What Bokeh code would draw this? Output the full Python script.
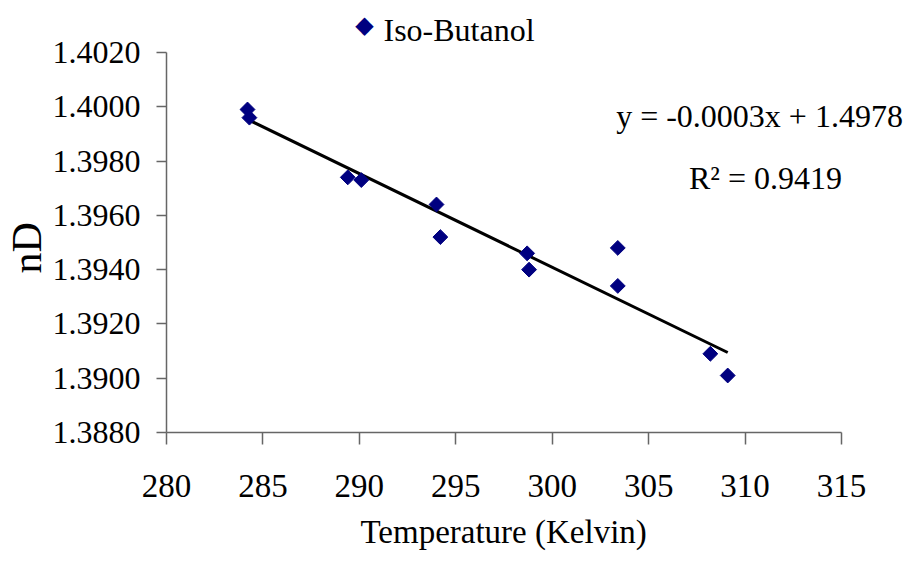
import numpy as np
from bokeh.plotting import figure
from bokeh.models import Range1d, FixedTicker, NumeralTickFormatter, Label, Title
from bokeh.embed import file_html
from bokeh.resources import INLINE

# ---- data ----
temperature = [284.2, 284.3, 289.4, 290.1, 294.0, 294.2, 298.7, 298.8, 303.4, 303.4, 308.2, 309.1]
nD = [1.3999, 1.3996, 1.3974, 1.3973, 1.3964, 1.3952, 1.3946, 1.3940, 1.3948, 1.3934, 1.3909, 1.3901]
series_name = "Iso-Butanol"
x_ticks = [280, 285, 290, 295, 300, 305, 310, 315]
y_ticks = [1.388, 1.390, 1.392, 1.394, 1.396, 1.398, 1.400, 1.402]
x_bounds = (280, 315)
y_bounds = (1.388, 1.402)
x_title = "Temperature (Kelvin)"
y_title = "nD"
equation_text = "y = -0.0003x + 1.4978"
r2_text = "R\u00b2 = 0.9419"

FONT = "Liberation Serif"
NAVY = "#000080"

# ---- layout (pixels) ----
W, H = 918, 566
LEFT, BOTTOM = 166, 134          # space for the axes
AX_RIGHT_PX, AX_TOP_PX = 841, 52  # where the axis bounds end on the canvas
frame_w = W - LEFT
frame_h = H - BOTTOM
x_per_px = (x_bounds[1] - x_bounds[0]) / (AX_RIGHT_PX - LEFT)
y_per_px = (y_bounds[1] - y_bounds[0]) / (frame_h - AX_TOP_PX)
x_end = x_bounds[0] + frame_w * x_per_px
y_end = y_bounds[0] + frame_h * y_per_px

p = figure(width=W, height=H, output_backend="svg", toolbar_location=None,
           x_range=Range1d(x_bounds[0], x_end), y_range=Range1d(y_bounds[0], y_end),
           min_border_left=LEFT, min_border_right=0, min_border_top=0, min_border_bottom=BOTTOM)
p.outline_line_color = None
p.xgrid.visible = False
p.ygrid.visible = False
p.background_fill_color = "white"

# axes
p.xaxis.ticker = FixedTicker(ticks=x_ticks)
p.yaxis.ticker = FixedTicker(ticks=y_ticks)
p.xaxis.bounds = x_bounds
p.yaxis.bounds = y_bounds
p.yaxis.formatter = NumeralTickFormatter(format="0.0000")
for ax in (p.xaxis, p.yaxis):
    ax.axis_line_color = "#666666"
    ax.axis_line_width = 1.5
    ax.major_tick_line_color = "#666666"
    ax.major_tick_line_width = 1.5
    ax.major_tick_in = 0
    ax.minor_tick_in = 0
    ax.minor_tick_out = 0
    ax.major_label_text_font = FONT
    ax.major_label_text_color = "black"

p.xaxis.major_tick_out = 12
p.xaxis.major_label_standoff = 30
p.xaxis.major_label_text_font_size = "33px"

p.yaxis.major_tick_out = 10
p.yaxis.major_label_standoff = 16
p.yaxis.major_label_text_font_size = "32px"

# axis titles, placed along the bounded part of each axis
p.add_layout(Title(text=x_title, align="left", offset=194, standoff=25,
                   text_font=FONT, text_font_size="33px", text_font_style="normal",
                   text_color="black"), "below")
p.add_layout(Title(text=y_title, align="left", offset=159, standoff=0,
                   text_font=FONT, text_font_size="42px", text_font_style="normal",
                   text_color="black"), "left")

# trend line (least squares fit of the data)
coef = np.polyfit(temperature, nD, 1)
xfit = [min(temperature), max(temperature)]
yfit = [coef[0] * v + coef[1] for v in xfit]
p.line(xfit, yfit, line_color="black", line_width=3)

# data points (diamonds)
p.scatter(temperature, nD, marker="square", angle=np.pi / 4, size=10.5,
          fill_color=NAVY, line_color=NAVY)

# texts placed in screen units relative to the frame's bottom-left
def screen_label(sx, sy, text, size, color="black", align="left", baseline="alphabetic",
                 font=FONT):
    return Label(x=sx, y=sy, x_units="screen", y_units="screen", text=text,
                 text_font=font, text_font_size=size, text_color=color,
                 text_align=align, text_baseline=baseline)

# legend
p.add_layout(screen_label(198, 407.5, "\u25c6", "24px", color=NAVY, align="center",
                          baseline="middle", font="DejaVu Sans"))
p.add_layout(screen_label(217, 403, series_name, "32px"))

# equation labels
p.add_layout(screen_label(593, 317, equation_text, "32px", align="center"))
p.add_layout(screen_label(599, 255, r2_text, "32px", align="center"))

open("out.html", "w").write(file_html(p, INLINE))
